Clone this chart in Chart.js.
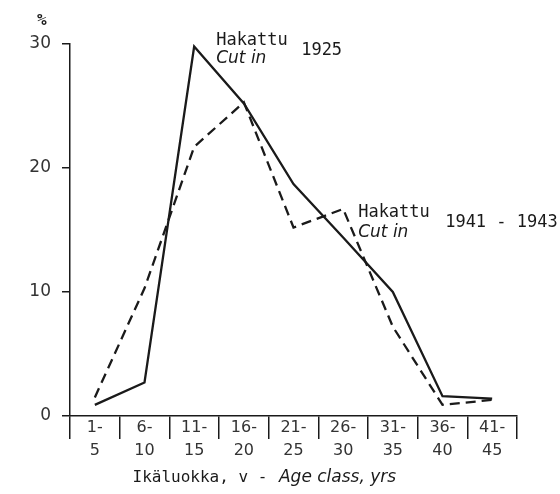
<!DOCTYPE html>
<html>
<head>
<meta charset="utf-8">
<script src="https://cdn.jsdelivr.net/npm/chart.js@4"></script>
<style>
  body { margin: 0; background: #fff; }
  canvas { display: block; }
</style>
</head>
<body>
<canvas id="ageChart" width="560" height="494"></canvas>
<script>
// Age classes (two-line tick labels)
const ageClasses = [["1-", "5"], ["6-", "10"], ["11-", "15"], ["16-", "20"], ["21-", "25"],
                    ["26-", "30"], ["31-", "35"], ["36-", "40"], ["41-", "45"]];

// Share of cut trees, %
const cut1925 = [0.9, 2.7, 29.8, 25.2, 18.7, 14.4, 10.0, 1.6, 1.4];
const cut1941 = [1.5, 10.3, 21.7, 25.3, 15.2, 16.7, 7.2, 0.9, 1.3];

const yTicks = [0, 10, 20, 30];

const ink = "#1a1a1a";
const mono = "'DejaVu Sans Mono', monospace";
const script = "italic 17px 'DejaVu Sans', sans-serif";

// Text written on the drawing: curve labels, % sign and x axis title
const drawingText = {
  id: "drawingText",
  afterDraw(chart) {
    const ctx = chart.ctx;
    const x = chart.scales.x;
    const y = chart.scales.y;
    ctx.save();
    ctx.fillStyle = ink;
    ctx.textBaseline = "middle";
    ctx.textAlign = "left";

    // % above the y axis
    ctx.font = "bold 16px " + mono;
    ctx.fillText("%", y.right - 33, y.getPixelForValue(30) - 23);

    // 1925 curve label
    let lx = x.getPixelForValue(2) + 22;
    let ly = y.getPixelForValue(30) - 3;
    ctx.font = "17px " + mono;
    ctx.fillText("Hakattu", lx, ly);
    ctx.fillText("1925", lx + 85, ly + 10);
    ctx.font = script;
    ctx.fillText("Cut in", lx, ly + 18);

    // 1941-1943 curve label
    lx = x.getPixelForValue(5) + 15;
    ly = y.getPixelForValue(16.4);
    ctx.font = "17px " + mono;
    ctx.fillText("Hakattu", lx, ly);
    ctx.fillText("1941 - 1943", lx + 87, ly + 10);
    ctx.font = script;
    ctx.fillText("Cut in", lx, ly + 20);

    // x axis title
    const tx = x.getPixelForValue(1) - 12;
    const ty = chart.height - 16;
    const part = "Ikäluokka, v - ";
    ctx.font = "16px " + mono;
    ctx.fillText(part, tx, ty);
    const w = ctx.measureText(part).width;
    ctx.font = script;
    ctx.fillText("Age class, yrs", tx + w + 2, ty);
    ctx.restore();
  }
};

new Chart(document.getElementById("ageChart").getContext("2d"), {
  type: "line",
  data: {
    labels: ageClasses,
    datasets: [{
      label: "Cut in 1925",
      data: cut1925,
      borderColor: ink,
      borderWidth: 2.3,
      pointRadius: 0,
      tension: 0,
      fill: false
    }, {
      label: "Cut in 1941 - 1943",
      data: cut1941,
      borderColor: ink,
      borderWidth: 2.3,
      borderDash: [10, 6],
      pointRadius: 0,
      tension: 0,
      fill: false
    }]
  },
  options: {
    responsive: false,
    animation: false,
    layout: { padding: { top: 44, right: 43, left: 0, bottom: 0 } },
    plugins: {
      legend: { display: false },
      tooltip: { enabled: false }
    },
    scales: {
      x: {
        offset: true,
        grid: { offset: true, drawOnChartArea: false, tickLength: 23, color: ink, lineWidth: 1.5 },
        border: { color: ink, width: 1.5 },
        ticks: {
          color: "#333",
          font: { family: "'DejaVu Sans', sans-serif", size: 16, lineHeight: 1.4 },
          padding: -22,
          maxRotation: 0,
          autoSkip: false
        },
        afterFit(scale) { scale.height = 78; }
      },
      y: {
        min: 0,
        max: 30,
        afterBuildTicks(scale) { scale.ticks = yTicks.map(v => ({ value: v })); },
        grid: { drawOnChartArea: false, tickLength: 8, color: ink, lineWidth: 1.5 },
        border: { color: ink, width: 1.5 },
        ticks: {
          color: "#333",
          font: { family: "'DejaVu Sans', sans-serif", size: 17 },
          padding: 11
        },
        afterFit(scale) { scale.width = 70; }
      }
    }
  },
  plugins: [drawingText]
});
</script>
</body>
</html>
